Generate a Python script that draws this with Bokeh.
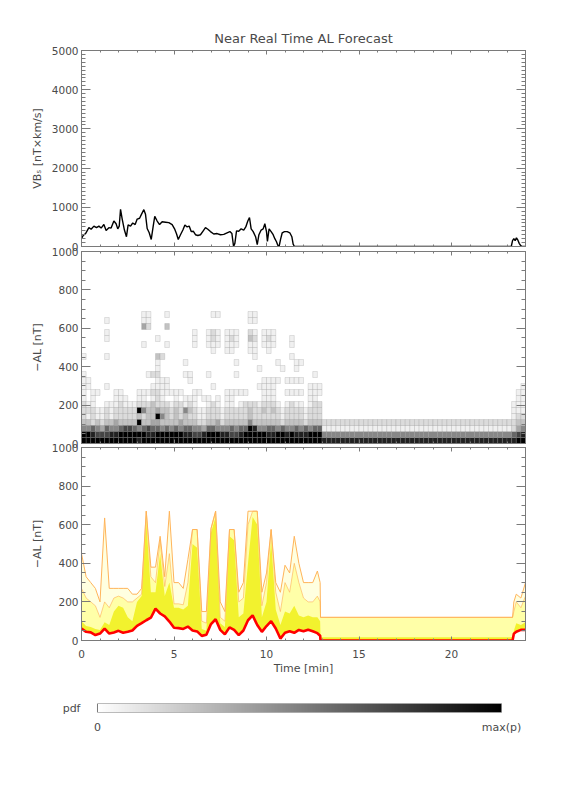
import numpy as np
from bokeh.plotting import figure
from bokeh.layouts import column
from bokeh.models import (Range1d, FixedTicker, LinearAxis, LinearColorMapper,
                          CustomLabelingPolicy)
from bokeh.embed import file_html
from bokeh.resources import INLINE
from bokeh.palettes import Greys256

# ---------------- texts / ticks ----------------
TITLE = "Near Real Time AL Forecast"
VBS_LABEL = "VBₛ [nT×km/s]"
AL_LABEL = "−AL [nT]"
TIME_LABEL = "Time [min]"
X_TICKS = [0, 5, 10, 15, 20]
X_MINOR = list(range(0, 25))
VBS_TICKS = [0, 1000, 2000, 3000, 4000, 5000]
VBS_MINOR = list(range(0, 5001, 100))
AL_TICKS = [0, 200, 400, 600, 800, 1000]
AL_MINOR = list(range(0, 1001, 50))

# ---------------- panel 1: VBs ----------------
VBS_T = [0.00, 0.09, 0.22, 0.40, 0.52, 0.67, 0.81, 0.94, 1.06, 1.21,
         1.33, 1.48, 1.60, 1.75, 1.87, 1.96, 2.04, 2.11, 2.20, 2.32,
         2.43, 2.52, 2.65, 2.77, 2.90, 3.01, 3.14, 3.24, 3.37, 3.46,
         3.55, 3.66, 3.77, 3.87, 3.96, 4.09, 4.22, 4.36, 4.54, 4.72,
         4.90, 5.03, 5.14, 5.23, 5.35, 5.48, 5.59, 5.71, 5.82, 5.93,
         6.04, 6.16, 6.29, 6.43, 6.58, 6.70, 6.83, 6.97, 7.15, 7.33,
         7.51, 7.69, 7.87, 8.02, 8.13, 8.22, 8.29, 8.38, 8.50, 8.63,
         8.77, 8.88, 8.99, 9.08, 9.17, 9.28, 9.41, 9.50, 9.59, 9.71,
         9.82, 9.91, 10.00, 10.05, 10.14, 10.25, 10.36, 10.45, 10.54, 10.61,
         10.68, 10.76, 10.85, 10.97, 11.12, 11.26, 11.37, 11.44, 11.51, 23.23,
         23.30, 23.37, 23.44, 23.51, 23.59, 23.66, 23.73, 23.80, 24.0]
VBS_V = [200, 280, 330, 480, 440, 520, 480, 520, 470, 560,
         410, 480, 470, 650, 580, 450, 520, 950, 700, 420,
         250, 550, 520, 600, 560, 700, 720, 820, 940, 820,
         460, 350, 180, 500, 770, 650, 560, 630, 620, 610,
         560, 450, 320, 180, 300, 420, 550, 500, 520, 380,
         390, 300, 280, 300, 400, 480, 440, 380, 320, 330,
         300, 310, 350, 380, 330, 0, 80, 400, 390, 450,
         420, 500, 650, 740, 450, 380, 250, 50, 300, 420,
         450, 580, 380, 130, 450, 380, 300, 200, 120, 30,
         0, 180, 350, 380, 380, 350, 250, 60, 0, 0,
         150, 200, 150, 220, 160, 80, 30, 0, 0]

# ---------------- panel 2: pdf of -AL ----------------
AL_BIN = 31.25      # nT per bin
COL_W = 0.25        # min per column
# intensity code 0..9 -> p / max(p)
PDF_LEVELS = [0.0, 0.06, 0.14, 0.24, 0.35, 0.47, 0.60, 0.73, 0.87, 1.0]
# rows from top bin (656-688 nT) down to bottom bin (0-31 nT), columns 0 .. 13 min
PDF_ROWS = [
    "0000000000" "0001100010" "0000000011" "0000001100" "0000000000" "00",
    "0000010000" "0001100000" "0000000000" "0000001100" "0000000000" "00",
    "0000000000" "0004200030" "0000000000" "0000000000" "0000000000" "00",
    "0000010000" "0000000000" "0000100121" "0111002101" "1100000000" "00",
    "0000010000" "0000001000" "0000100121" "0121003201" "2100010000" "00",
    "0000000000" "0001000010" "0000100111" "0111001101" "1100010000" "00",
    "0000000000" "0000000000" "0000000010" "0110001100" "1000000000" "00",
    "1000010000" "0000003200" "0000000000" "0000000100" "0000010000" "00",
    "0000000000" "0000001000" "0010000000" "0001000000" "0010001100" "00",
    "0000000000" "0000001000" "0000000000" "0000000010" "0001001000" "00",
    "1000000000" "0000122000" "0011000100" "0001000000" "0000000000" "10",
    "1100000000" "0000001110" "0001000000" "0000000001" "1110111100" "00",
    "1100010000" "0000011110" "0000000010" "0000000011" "1100000001" "11",
    "1011000110" "0011122111" "1100110000" "0111110001" "1100111101" "11",
    "1010000111" "0011012100" "1011101101" "0110000001" "1100000001" "10",
    "2110011121" "1122232221" "2212100121" "0110122212" "2210121101" "22",
    "2221121222" "2295334332" "3253211222" "1222223223" "2321222212" "22",
    "2121121222" "2232339532" "3232211222" "1222223222" "2221222212" "22",
    "3323233433" "3393344333" "3433322334" "2333335333" "3332333323" "33",
    "5565465567" "7656766565" "6566554665" "5565669855" "6656556565" "66",
    "9987778899" "9999889999" "9988778999" "8877899999" "8899898889" "99",
    "9999999999" "9989999999" "9999999999" "9999999999" "9999999999" "99",
]
FLAT_START, FLAT_END = 13.0, 23.25
FLAT_PROFILE = [8, 5, 1, 2]          # bins 0..3 while no solar-wind data
END_STARTS = [23.25, 23.5, 23.75]
END_COLS = ["8622111000", "9743211110", "9853211111"]   # bins 0..9

# ---------------- panel 3: forecast quantiles ----------------
Q_T = [0.0, 0.25, 0.5, 0.75, 1.0, 1.25, 1.5, 1.75, 2.0, 2.25, 2.5, 2.75,
       3.0, 3.25, 3.5, 3.75, 4.0, 4.25, 4.5, 4.75, 5.0, 5.25, 5.5, 5.75,
       6.0, 6.25, 6.5, 6.75, 7.0, 7.25, 7.5, 7.75, 8.0, 8.25, 8.5, 8.75,
       9.0, 9.25, 9.5, 9.75, 10.0, 10.25, 10.5, 10.75, 11.0, 11.25, 11.5, 11.75,
       12.0, 12.25, 12.5, 12.75, 12.9, 12.92, 23.3, 23.37, 23.5, 23.75, 24.0]
Q_OUTER = [450, 330, 300, 270, 200, 635, 270, 270, 270, 270, 270, 240,
           240, 270, 670, 380, 380, 540, 330, 670, 300, 300, 270, 420,
           575, 575, 150, 150, 580, 670, 200, 150, 575, 575, 250, 300,
           670, 670, 670, 250, 350, 575, 300, 250, 390, 350, 540, 400,
           300, 300, 300, 360, 300, 120, 120, 200, 240, 220, 300]
Q_MID = [270, 220, 200, 180, 120, 200, 170, 220, 230, 220, 200, 200,
         220, 240, 670, 330, 300, 520, 280, 450, 190, 190, 185, 300,
         575, 575, 100, 90, 580, 670, 120, 100, 575, 575, 200, 220,
         600, 670, 670, 180, 300, 575, 250, 150, 300, 250, 400, 300,
         220, 200, 200, 230, 200, 120, 120, 150, 200, 170, 230]
Q_INNER = [100, 75, 70, 60, 55, 95, 80, 150, 180, 170, 120, 100,
           200, 230, 620, 250, 250, 450, 230, 300, 170, 170, 160, 180,
           500, 480, 60, 50, 560, 640, 90, 70, 540, 520, 120, 140,
           400, 640, 600, 120, 200, 520, 160, 80, 150, 140, 180, 130,
           120, 130, 120, 120, 100, 17, 17, 50, 90, 80, 95]
Q_RED = [62, 45, 42, 28, 36, 62, 36, 42, 50, 40, 45, 52,
         76, 90, 105, 118, 165, 140, 125, 98, 66, 64, 60, 72,
         52, 47, 24, 30, 85, 110, 55, 32, 68, 55, 28, 52,
         105, 130, 80, 45, 75, 100, 62, 10, 40, 48, 40, 55,
         48, 56, 48, 38, 25, 0, 0, 35, 45, 55, 55]

# ---------------- colour bar ----------------
CB_LOW, CB_HIGH = 0.0, 1.0
CB_LABELS = {0: "0", 1: "max(p)"}
CB_TITLE = "pdf"

# ---------------- style ----------------
FONT = "DejaVu Sans"
TICK_SIZE = "10.5px"
TXT = "#4a4a4a"
AXC = "#7a7a7a"
C_OUTER = "#FFFFE0"
C_MID = "#FFFFA8"
C_INNER = "#F2F22E"
C_ORANGE = "#FFB45A"
C_RED = "#FF0000"
GREYS = list(Greys256)[::-1]     # white (0) -> black (max)
FRAME_W = 444
BORDER_L = 81
BORDER_R = 30


def hide_policy():
    return CustomLabelingPolicy(code="return []")


def mk_axis(ticks, minor, tick_in, minor_in, show_labels, label=None,
            standoff=3, label_standoff=4):
    a = LinearAxis(ticker=FixedTicker(ticks=ticks, minor_ticks=minor))
    a.axis_line_color = AXC
    a.major_tick_line_color = AXC
    a.minor_tick_line_color = AXC
    a.major_tick_in = tick_in
    a.major_tick_out = 0
    a.minor_tick_in = minor_in
    a.minor_tick_out = 0
    if show_labels:
        a.major_label_text_font = FONT
        a.major_label_text_font_size = TICK_SIZE
        a.major_label_text_color = TXT
        a.major_label_standoff = standoff
    else:
        a.major_label_text_font_size = "1px"
        a.major_label_standoff = 0
        a.major_label_policy = hide_policy()
    if label:
        a.axis_label = label
        a.axis_label_text_font = FONT
        a.axis_label_text_font_size = "11px"
        a.axis_label_text_font_style = "normal"
        a.axis_label_text_color = TXT
        a.axis_label_standoff = label_standoff
    return a


X_RANGE = Range1d(0, 24)


def panel(h, top_b, bot_b, yend, yticks, yminor, ylabel, xlabels=False, title=None,
          overlap=0):
    p = figure(frame_width=FRAME_W, frame_height=h, x_range=X_RANGE,
               y_range=Range1d(0, yend), x_axis_location=None, y_axis_location=None,
               output_backend="svg", toolbar_location=None,
               min_border_left=BORDER_L, min_border_right=BORDER_R,
               min_border_top=top_b, min_border_bottom=bot_b, title=title)
    p.grid.grid_line_color = None
    p.outline_line_color = AXC
    p.background_fill_color = "white"
    p.border_fill_color = None
    if overlap:
        p.margin = (-overlap, 0, 0, 0)
    p.add_layout(mk_axis(yticks, yminor, 9, 4, True, ylabel, 3, 5), "left")
    p.add_layout(mk_axis(yticks, yminor, 9, 4, False), "right")
    p.add_layout(mk_axis(X_TICKS, X_MINOR, 4, 2, xlabels,
                         TIME_LABEL if xlabels else None, 9, 1), "below")
    p.add_layout(mk_axis(X_TICKS, X_MINOR, 4, 2, False), "above")
    return p


# ---- panel 1
p1 = panel(196, 50, 8, 5000, VBS_TICKS, VBS_MINOR, VBS_LABEL, title=TITLE)
p1.title.align = "center"
p1.title.text_font = FONT
p1.title.text_font_size = "13px"
p1.title.text_font_style = "normal"
p1.title.text_color = TXT
p1.title.standoff = 1
p1.line(VBS_T, VBS_V, line_color="black", line_width=1.4)

# ---- panel 2
p2 = panel(192, 8, 8, 1000, AL_TICKS, AL_MINOR, AL_LABEL, overlap=11)
L, R, B, T, C = [], [], [], [], []


def add_cell(t0, b, d):
    if d <= 0:
        return
    lvl = PDF_LEVELS[d]
    L.append(t0)
    R.append(t0 + COL_W)
    B.append(b * AL_BIN)
    T.append((b + 1) * AL_BIN)
    C.append(GREYS[min(255, int(round(lvl * 255)))])


nb = len(PDF_ROWS)
for r, row in enumerate(PDF_ROWS):
    for c, ch in enumerate(row):
        add_cell(c * COL_W, nb - 1 - r, int(ch))
n_flat = int(round((FLAT_END - FLAT_START) / COL_W))
for k in range(n_flat):
    for b, d in enumerate(FLAT_PROFILE):
        add_cell(FLAT_START + k * COL_W, b, d)
for t0, col in zip(END_STARTS, END_COLS):
    for b, ch in enumerate(col):
        add_cell(t0, b, int(ch))

p2.quad(left=L, right=R, bottom=B, top=T, fill_color=C,
        line_color="#8c8c8c", line_alpha=0.4, line_width=0.6)

# ---- panel 3
p3 = panel(193, 8, 40, 1000, AL_TICKS, AL_MINOR, AL_LABEL, xlabels=True, overlap=12)
p3.varea(x=Q_T, y1=Q_RED, y2=Q_OUTER, fill_color=C_OUTER)
p3.varea(x=Q_T, y1=Q_RED, y2=Q_MID, fill_color=C_MID)
p3.varea(x=Q_T, y1=Q_RED, y2=Q_INNER, fill_color=C_INNER)
p3.line(Q_T, Q_OUTER, line_color=C_ORANGE, line_width=1)
p3.line(Q_T, Q_MID, line_color=C_ORANGE, line_width=0.8, line_alpha=0.8)
p3.line(Q_T, Q_RED, line_color=C_RED, line_width=2.6)

# ---- colour bar: frame = the bar's row (aligned with the panels)
cb = figure(frame_width=FRAME_W, frame_height=9, x_range=Range1d(-0.0396, 1.0594),
            y_range=Range1d(0, 1), x_axis_location=None, y_axis_location=None,
            output_backend="svg", toolbar_location=None,
            min_border_left=BORDER_L, min_border_right=BORDER_R, min_border_top=23,
            min_border_bottom=30)
cb.grid.grid_line_color = None
cb.outline_line_color = None
cb.border_fill_color = None
mapper = LinearColorMapper(palette=GREYS, low=CB_LOW, high=CB_HIGH)
cb.image(image=[np.linspace(CB_LOW, CB_HIGH, 256).reshape(1, 256)],
         x=CB_LOW, y=0, dw=CB_HIGH - CB_LOW, dh=1, color_mapper=mapper)
cb.quad(left=[CB_LOW], right=[CB_HIGH], bottom=[0], top=[1],
        fill_color=None, line_color=AXC, line_width=1)

cbx = LinearAxis(ticker=FixedTicker(ticks=[CB_LOW, CB_HIGH], minor_ticks=[]),
                 major_label_overrides=CB_LABELS)
cbx.axis_line_color = None
cbx.major_tick_line_color = None
cbx.major_tick_in = 0
cbx.major_tick_out = 0
cbx.minor_tick_in = 0
cbx.minor_tick_out = 0
cbx.major_label_standoff = 8
cbx.major_label_text_font = FONT
cbx.major_label_text_font_size = "11px"
cbx.major_label_text_color = TXT
cb.add_layout(cbx, "below")

cby = LinearAxis(ticker=FixedTicker(ticks=[], minor_ticks=[]))
cby.axis_line_color = None
cby.major_tick_line_color = None
cby.minor_tick_line_color = None
cby.major_tick_in = 0
cby.major_tick_out = 0
cby.axis_label = CB_TITLE
cby.axis_label_orientation = "horizontal"
cby.axis_label_standoff = 1
cby.axis_label_text_font = FONT
cby.axis_label_text_font_size = "11px"
cby.axis_label_text_font_style = "normal"
cby.axis_label_text_color = TXT
cb.add_layout(cby, "left")

layout = column(p1, p2, p3, cb, spacing=0)
open("out.html", "w").write(file_html(layout, INLINE))
